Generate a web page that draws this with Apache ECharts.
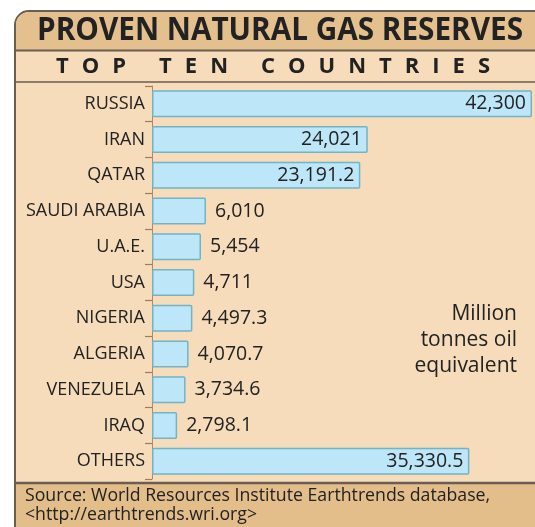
<!DOCTYPE html>
<html>
<head>
<meta charset="utf-8">
<script src="https://cdn.jsdelivr.net/npm/echarts@6/dist/echarts.min.js"></script>
<style>
  html, body { margin: 0; padding: 0; background: #fff; }
  #chart { width: 535px; height: 527px; }
</style>
</head>
<body>
<div id="chart"></div>
<script>
// data
const countries = ['RUSSIA', 'IRAN', 'QATAR', 'SAUDI ARABIA', 'U.A.E.', 'USA', 'NIGERIA', 'ALGERIA', 'VENEZUELA', 'IRAQ', 'OTHERS']
const reserves = [42300, 24021, 23191.2, 6010, 5454, 4711, 4497.3, 4070.7, 3734.6, 2798.1, 35330.5]

const titleText = 'PROVEN NATURAL GAS RESERVES'
const subtitleText = 'TOP TEN COUNTRIES'
const unitLines = ['Million', 'tonnes oil', 'equivalent']
const sourceLines = ['Source: World Resources Institute Earthtrends database,', '<http://earthtrends.wri.org>']

const FONT = '"Open Sans", "Noto Sans", sans-serif'
const ink = '#222222'
const frameLine = '#6b5d50'

// measure text so the title can be squeezed like the condensed face
const ctx = document.createElement('canvas').getContext('2d')
function textWidth(str, font) {
  ctx.font = font
  return ctx.measureText(str).width
}

const chart = echarts.init(document.getElementById('chart'))

// title, squeezed to its width
const titleFont = 'bold 32px ' + FONT
const titleScale = 486 / textWidth(titleText, titleFont)

// subtitle, letter spaced one glyph at a time
const subFont = 'bold 22px ' + FONT
const subLetters = []
let cx = 56
for (const ch of subtitleText) {
  if (ch === ' ') { cx += 20; continue }
  subLetters.push({
    type: 'text', x: cx, y: 67, z: 10,
    style: { text: ch, font: subFont, fill: ink, verticalAlign: 'middle' }
  })
  cx += textWidth(ch, subFont) + 13
}

const graphics = [
  // frame and panel
  { type: 'rect', z: -10, shape: { x: 15, y: 11, width: 540, height: 530, r: [14, 0, 0, 0] },
    style: { fill: '#f6dcba', stroke: frameLine, lineWidth: 2 } },
  { type: 'rect', z: -9, shape: { x: 16, y: 12, width: 540, height: 38, r: [13, 0, 0, 0] },
    style: { fill: '#e5c08f' } },
  { type: 'rect', z: -9, shape: { x: 16, y: 484, width: 540, height: 50 },
    style: { fill: '#e3bd8a' } },
  { type: 'line', z: -8, shape: { x1: 15, y1: 50.5, x2: 535, y2: 50.5 }, style: { stroke: frameLine, lineWidth: 2 } },
  { type: 'line', z: -8, shape: { x1: 15, y1: 82, x2: 535, y2: 82 }, style: { stroke: frameLine, lineWidth: 1.5 } },
  { type: 'line', z: -8, shape: { x1: 15, y1: 483, x2: 535, y2: 483 }, style: { stroke: frameLine, lineWidth: 2.5 } },
  // title
  { type: 'text', x: 37, y: 31, scaleX: titleScale, z: 10,
    style: { text: titleText, font: titleFont, fill: ink, verticalAlign: 'middle' } },
  ...subLetters,
  // unit note
  { type: 'text', x: 517, y: 340, z: 10,
    style: { text: unitLines.join('\n'), font: '21px ' + FONT, lineHeight: 26, fill: ink,
      align: 'right', verticalAlign: 'middle' } },
  // source
  { type: 'text', x: 25, y: 505, z: 10,
    style: { text: sourceLines.join('\n'), font: '17.7px ' + FONT, lineHeight: 19, fill: ink,
      verticalAlign: 'middle' } }
]

const option = {
  animation: false,
  backgroundColor: '#ffffff',
  graphic: graphics,
  grid: { left: 152, right: 3, top: 86, height: 393 },
  xAxis: { type: 'value', min: 0, max: 42300, show: false },
  yAxis: {
    type: 'category',
    inverse: true,
    data: countries,
    axisLine: { show: true, lineStyle: { color: '#b08a64', width: 1 } },
    axisTick: { show: true, length: 7, lineStyle: { color: '#a07c58', width: 1.2 } },
    axisLabel: { color: ink, fontFamily: FONT, fontSize: 18, margin: 7 }
  },
  series: [{
    type: 'bar',
    barWidth: 27,
    data: reserves.map(v => ({
      value: v,
      label: v > 20000
        ? { position: 'insideRight', distance: 6 }
        : { position: 'right', distance: 9 }
    })),
    itemStyle: { color: '#bde6f8', borderColor: '#72b4c6', borderWidth: 1.5, borderRadius: 1 },
    label: {
      show: true,
      color: ink,
      fontFamily: FONT,
      fontSize: 19.5,
      formatter: p => p.value.toLocaleString('en-US', { maximumFractionDigits: 1 })
    }
  }]
}

chart.setOption(option)
</script>
</body>
</html>
